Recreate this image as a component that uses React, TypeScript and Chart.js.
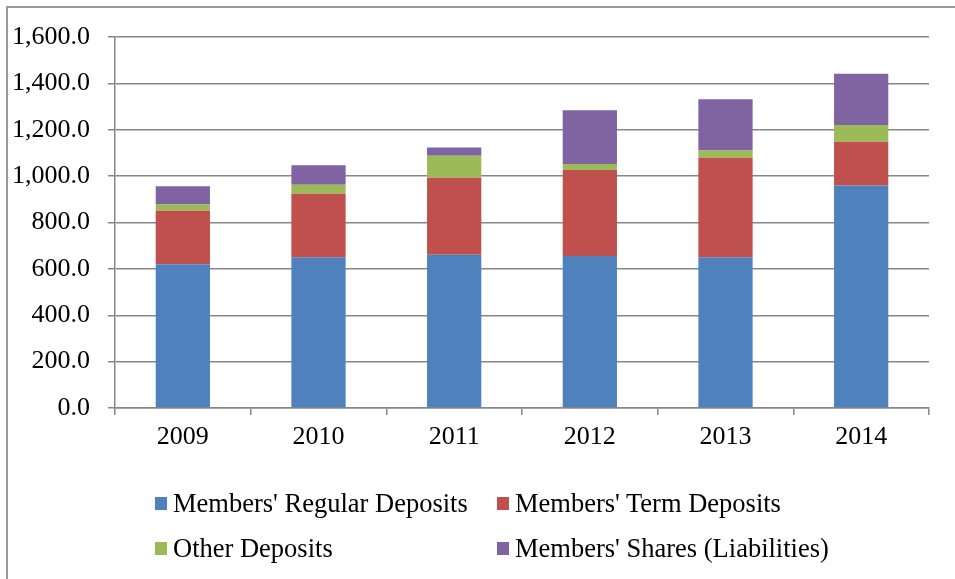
import React, { useEffect, useRef } from "react";
import { Chart, registerables } from "chart.js";

Chart.register(...registerables);

const categories = ["2009", "2010", "2011", "2012", "2013", "2014"];
const regularDeposits = [620, 650, 661, 655, 650, 960];
const termDeposits = [231, 274, 332, 371, 429, 188];
const otherDeposits = [27, 39, 95, 26, 32, 72];
const memberShares = [78, 84, 35, 232, 221, 221];
const seriesNames = [
  "Members' Regular Deposits",
  "Members' Term Deposits",
  "Other Deposits",
  "Members' Shares (Liabilities)",
];
const seriesColors = ["#4F81BD", "#C0504D", "#9BBB59", "#8064A2"];
const yMin = 0;
const yMax = 1600;
const yStep = 200;

const FONT = "'Liberation Serif', 'Times New Roman', serif";
const GRID = "#878787";

export default function App() {
  const canvasRef = useRef<HTMLCanvasElement | null>(null);

  useEffect(() => {
    const canvas = canvasRef.current;
    if (!canvas) return;
    const seriesValues = [regularDeposits, termDeposits, otherDeposits, memberShares];
    const chart = new Chart(canvas, {
      type: "bar",
      data: {
        labels: categories,
        datasets: seriesValues.map((vals, i) => ({
          label: seriesNames[i],
          data: vals,
          backgroundColor: seriesColors[i],
          borderWidth: 0,
          barPercentage: 0.4,
          categoryPercentage: 1,
        })),
      },
      options: {
        responsive: false,
        devicePixelRatio: 1,
        animation: false,
        layout: { padding: { left: 0, right: 26, top: 37, bottom: 111 } },
        plugins: {
          legend: { display: false },
          tooltip: { enabled: false },
          title: { display: false },
        },
        scales: {
          x: {
            stacked: true,
            grid: {
              display: true,
              offset: true,
              drawOnChartArea: false,
              drawTicks: true,
              tickLength: 7,
              color: GRID,
              lineWidth: 1.5,
            },
            border: { display: true, color: GRID, width: 1.5 },
            ticks: {
              color: "#000",
              padding: 7,
              font: { family: FONT, size: 26 },
              maxRotation: 0,
            },
            afterFit: (scale: any) => {
              scale.height = 60;
            },
          },
          y: {
            stacked: true,
            min: yMin,
            max: yMax,
            grid: {
              display: true,
              drawOnChartArea: true,
              drawTicks: true,
              tickLength: 7,
              color: GRID,
              lineWidth: 1.5,
            },
            border: { display: true, color: GRID, width: 1.5 },
            ticks: {
              stepSize: yStep,
              color: "#000",
              padding: 18,
              font: { family: FONT, size: 26 },
              callback: (v: any) =>
                Number(v).toLocaleString("en-US", {
                  minimumFractionDigits: 1,
                  maximumFractionDigits: 1,
                }),
            },
            afterFit: (scale: any) => {
              scale.width = 115;
            },
          },
        },
      },
    });
    return () => chart.destroy();
  }, []);

  const colX = [155, 497];
  const rowTop = [488, 533];

  return (
    <div
      style={{
        position: "fixed",
        left: 0,
        top: 0,
        width: 955,
        height: 579,
        overflow: "hidden",
        background: "#fff",
      }}
    >
      <canvas
        ref={canvasRef}
        width={955}
        height={579}
        style={{ position: "absolute", left: 0, top: 0, width: 955, height: 579 }}
      />
      <div
        style={{
          position: "absolute",
          left: 6,
          top: 6,
          width: 980,
          height: 600,
          border: "2px solid #9a9a9a",
          pointerEvents: "none",
        }}
      />
      {seriesNames.map((name, i) => (
        <div
          key={name}
          style={{
            position: "absolute",
            left: colX[i % 2],
            top: rowTop[Math.floor(i / 2)],
            height: 30,
            display: "flex",
            alignItems: "center",
            fontFamily: FONT,
            fontSize: 26.5,
            lineHeight: "30px",
            color: "#000",
            whiteSpace: "nowrap",
          }}
        >
          <span
            style={{
              display: "inline-block",
              width: 12,
              height: 13,
              background: seriesColors[i],
              marginRight: 6,
            }}
          />
          <span>{name}</span>
        </div>
      ))}
    </div>
  );
}
